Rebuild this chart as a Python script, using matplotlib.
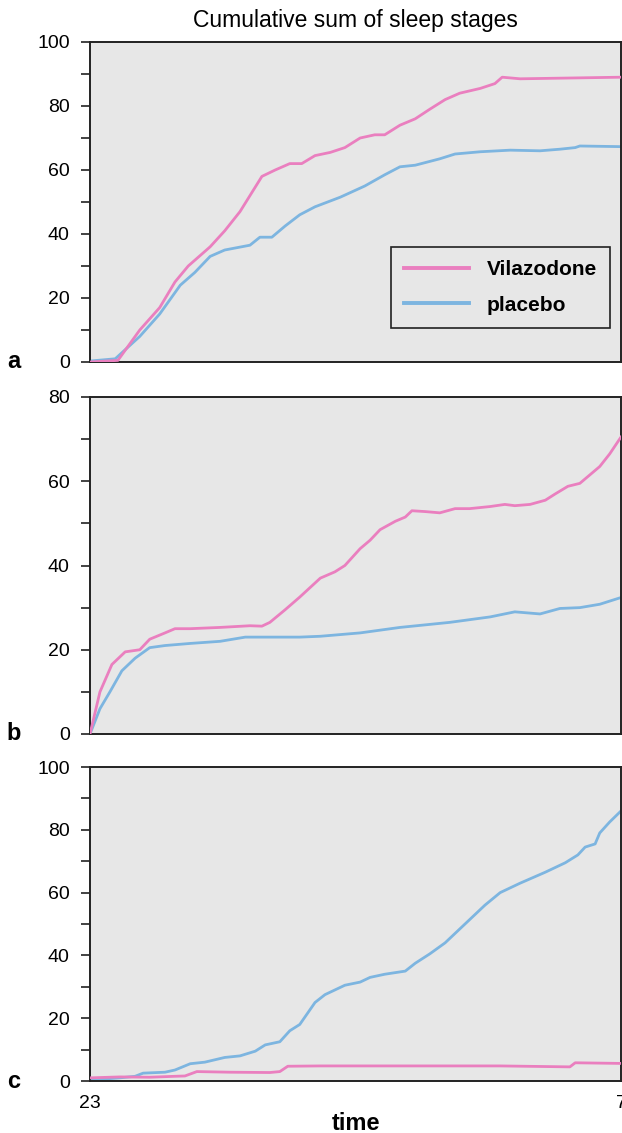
import matplotlib.pyplot as plt
import numpy as np

# time in hours after 23:00, values = cumulative sum
# panel a
t_a_vil = [0, 0.42, 0.75, 1.05, 1.28, 1.48, 1.81, 2.03, 2.26, 2.41, 2.59, 2.79, 3.01, 3.19,
           3.39, 3.62, 3.84, 4.07, 4.29, 4.44, 4.67, 4.90, 5.12, 5.35, 5.57, 5.88, 6.10, 6.21,
           6.48, 8.0]
y_a_vil = [0, 0.5, 10, 17, 25, 30, 36, 41, 47, 52, 58, 60, 62, 62,
           64.5, 65.5, 67, 70, 71, 71, 74, 76, 79, 82, 84, 85.5, 87, 89,
           88.5, 89]
t_a_pla = [0, 0.38, 0.75, 1.05, 1.36, 1.58, 1.81, 2.03, 2.41, 2.56, 2.74, 2.94, 3.16, 3.39,
           3.77, 4.14, 4.44, 4.67, 4.90, 5.27, 5.50, 5.88, 6.33, 6.78, 7.08, 7.31, 7.38, 8.0]
y_a_pla = [0.3, 1, 8, 15, 24, 28, 33, 35, 36.5, 39, 39, 42.5, 46, 48.5,
           51.5, 55, 58.5, 61, 61.5, 63.5, 65, 65.7, 66.2, 66, 66.5, 67, 67.5, 67.3]

# panel b
t_b_vil = [0, 0.15, 0.33, 0.53, 0.75, 0.90, 1.13, 1.28, 1.51, 1.96, 2.41, 2.59, 2.71, 2.94,
           3.16, 3.47, 3.69, 3.84, 4.07, 4.22, 4.37, 4.60, 4.75, 4.85, 5.05, 5.27, 5.50,
           5.72, 6.03, 6.25, 6.40, 6.63, 6.86, 7.01, 7.20, 7.38, 7.53, 7.68, 7.83, 8.0]
y_b_vil = [0, 10, 16.5, 19.5, 20, 22.5, 24, 25, 25, 25.3, 25.7, 25.6, 26.5, 29.5,
           32.5, 37, 38.5, 40, 44, 46, 48.5, 50.5, 51.5, 53, 52.8, 52.5, 53.5,
           53.5, 54, 54.5, 54.2, 54.5, 55.5, 57, 58.8, 59.5, 61.5, 63.5, 66.5, 70.5]
t_b_pla = [0, 0.15, 0.30, 0.48, 0.68, 0.90, 1.13, 1.51, 1.96, 2.34, 2.71, 3.16, 3.47, 4.07,
           4.67, 5.42, 6.03, 6.40, 6.78, 7.08, 7.38, 7.68, 8.0]
y_b_pla = [0, 6, 10, 15, 18, 20.5, 21, 21.5, 22, 23, 23, 23, 23.2, 24,
           25.3, 26.5, 27.8, 29, 28.5, 29.8, 30, 30.8, 32.4]

# panel c
t_c_vil = [0, 0.45, 0.90, 1.28, 1.43, 1.61, 2.11, 2.71, 2.86, 2.98, 3.47, 4.67, 6.18,
           7.23, 7.31, 8.0]
y_c_vil = [1, 1.3, 1.2, 1.5, 1.6, 3, 2.8, 2.7, 3, 4.7, 4.8, 4.8, 4.8,
           4.5, 5.8, 5.6]
t_c_pla = [0, 0.45, 0.68, 0.80, 1.13, 1.28, 1.51, 1.73, 2.03, 2.26, 2.49, 2.64, 2.86,
           3.01, 3.16, 3.39, 3.54, 3.84, 4.07, 4.22, 4.44, 4.75, 4.90, 5.12, 5.35, 5.65,
           5.95, 6.18, 6.48, 6.86, 7.16, 7.35, 7.46, 7.61, 7.68, 7.83, 8.0]
y_c_pla = [0.3, 1, 1.5, 2.5, 2.8, 3.5, 5.5, 6, 7.5, 8, 9.5, 11.5, 12.5,
           16, 18, 25, 27.5, 30.5, 31.5, 33, 34, 35, 37.5, 40.5, 44, 50,
           56, 60, 63, 66.5, 69.5, 72, 74.5, 75.5, 79, 82.5, 86]

panels = [
    ('a', 100, t_a_vil, y_a_vil, t_a_pla, y_a_pla),
    ('b', 80, t_b_vil, y_b_vil, t_b_pla, y_b_pla),
    ('c', 100, t_c_vil, y_c_vil, t_c_pla, y_c_pla),
]

pink = '#ea7fbf'
blue = '#7db5e0'

plt.rcParams['font.family'] = ['Liberation Sans', 'DejaVu Sans']

fig = plt.figure(figsize=(6.22, 11.33), dpi=100)
W, H = 622.0, 1133.0
# pixel boxes (left, top, right, bottom)
boxes = [(90, 42, 621, 362), (90, 397, 621, 734), (90, 767, 621, 1081)]

axes = []
for (lab, ymax, tv, yv, tp, yp), (l, t, r, b) in zip(panels, boxes):
    ax = fig.add_axes([l / W, 1 - b / H, (r - l) / W, (b - t) / H])
    ax.set_facecolor('#e7e7e7')
    ax.plot(tv, yv, color=pink, lw=2.0, label='Vilazodone', zorder=3)
    ax.plot(tp, yp, color=blue, lw=2.0, label='placebo', zorder=2)
    ax.set_xlim(0, 8)
    ax.set_ylim(0, ymax)
    ax.set_yticks(np.arange(0, ymax + 1, 20))
    ax.set_yticks(np.arange(10, ymax, 20), minor=True)
    ax.tick_params(axis='y', which='both', direction='out', length=6.5, width=1.2,
                   labelsize=14, color='#222222', pad=8)
    ax.tick_params(axis='x', which='both', length=0)
    ax.set_xticks([])
    for s in ax.spines.values():
        s.set_linewidth(1.4)
        s.set_color('#222222')
    ax.text(-0.144, 0, lab, transform=ax.transAxes, fontsize=17, fontweight='bold',
            ha='center', va='center')
    axes.append(ax)

axes[0].set_title('Cumulative sum of sleep stages', fontsize=16.5, pad=11)
axes[0].legend(loc='upper right', bbox_to_anchor=(0.979, 0.359),
               prop={'weight': 'bold', 'size': 15}, frameon=True, fancybox=False,
               edgecolor='#222222', facecolor='#e7e7e7', framealpha=1,
               handlelength=3.1, handletextpad=0.85, labelspacing=0.8,
               borderpad=0.62, borderaxespad=0)
axes[0].get_legend().get_frame().set_linewidth(1.2)
for line in axes[0].get_legend().get_lines():
    line.set_linewidth(2.8)

axes[2].set_xticks([0, 8])
axes[2].set_xticklabels(['23', '7'], fontsize=14)
axes[2].tick_params(axis='x', pad=10)
axes[2].set_xlabel('time', fontsize=17, fontweight='bold', labelpad=0)

fig.savefig('out.png', dpi=100)
